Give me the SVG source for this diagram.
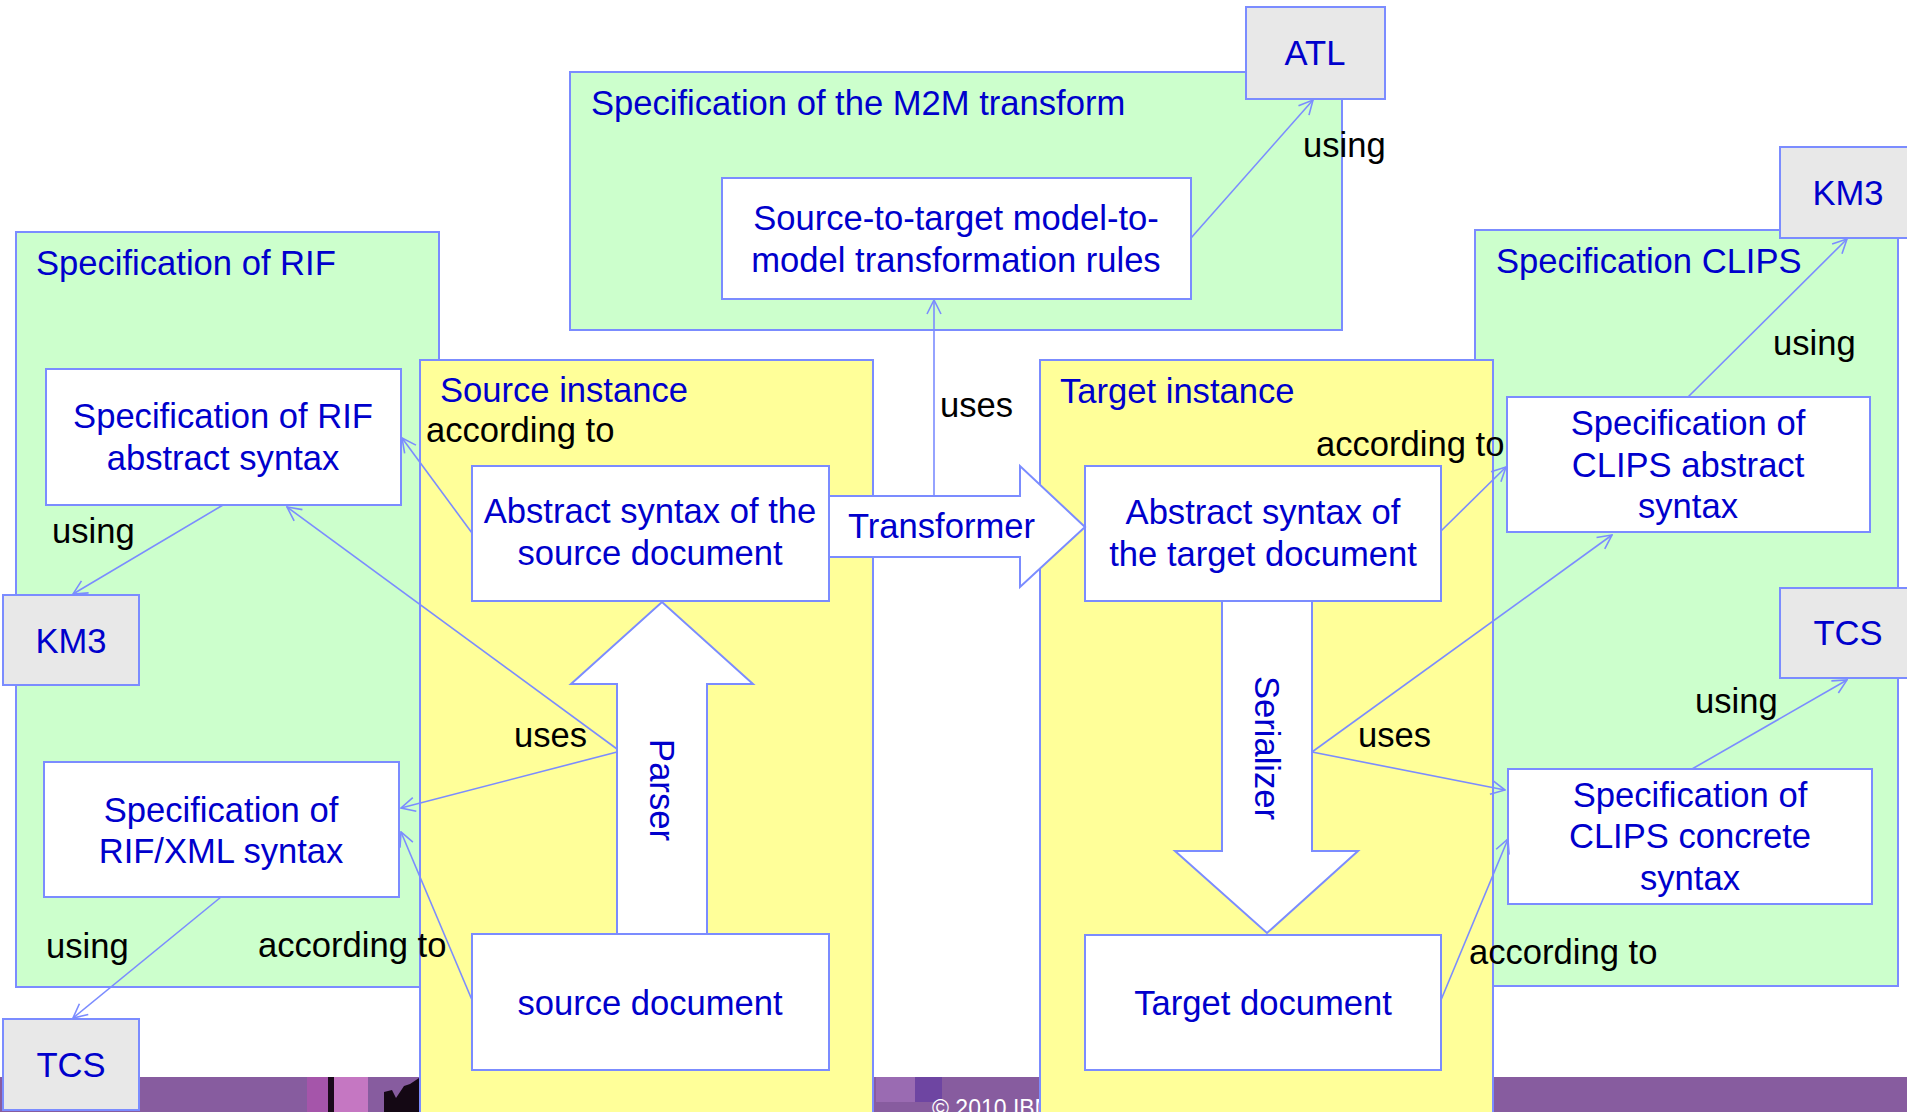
<svg xmlns="http://www.w3.org/2000/svg" width="1907" height="1112" viewBox="0 0 1907 1112">
<style>
.t{font-family:"Liberation Sans",Arial,sans-serif;font-size:34.6px;fill:#0000CC}
.m{text-anchor:middle}
.k{font-family:"Liberation Sans",Arial,sans-serif;font-size:34.6px;fill:#000}
.g{fill:#CCFFCC;stroke:#7B8CFF;stroke-width:2}
.y{fill:#FFFF99;stroke:#7B8CFF;stroke-width:2}
.w{fill:#FFFFFF;stroke:#7B8CFF;stroke-width:2}
.gr{fill:#E8E8E8;stroke:#7B8CFF;stroke-width:2}
.c{fill:none;stroke:#7B8CFF;stroke-width:1.6;marker-end:url(#ah)}
</style>
<defs>
<marker id="ah" viewBox="0 0 16 16" refX="15" refY="8" markerWidth="16" markerHeight="16" markerUnits="userSpaceOnUse" orient="auto">
<path d="M1,1 L15,8 L1,15" fill="none" stroke="#7B8CFF" stroke-width="1.6"/>
</marker>
</defs>
<rect width="1907" height="1112" fill="#FFFFFF"/>
<g id="footer">
<rect x="0" y="1077" width="1907" height="35" fill="#875C9F"/>
<rect x="307" y="1077" width="21" height="35" fill="#A555AA"/>
<rect x="328" y="1077" width="6" height="35" fill="#1A0A1A"/>
<rect x="334" y="1077" width="34" height="35" fill="#C577C2"/>
<path d="M384,1112 L384,1092 L392,1090 L396,1098 L404,1086 L410,1084 L419,1078 L419,1112 Z" fill="#140814"/>
<rect x="876" y="1077" width="39" height="25" fill="#9A6BB2"/>
<rect x="915" y="1077" width="27" height="25" fill="#6E45A2"/>
<text x="932" y="1116" font-family="Liberation Sans,Arial,sans-serif" font-size="23" fill="#FFFFFF">© 2010 IBM Corporation</text>
</g>
<g id="spec-rif">
<rect class="g" x="16" y="232" width="423" height="755"/>
<text class="t" x="36" y="275">Specification of RIF</text>
</g>
<g id="spec-m2m">
<rect class="g" x="570" y="72" width="772" height="258"/>
<text class="t" x="591" y="115">Specification of the M2M transform</text>
</g>
<g id="spec-clips">
<rect class="g" x="1475" y="230" width="423" height="756"/>
<text class="t" x="1496" y="273">Specification CLIPS</text>
</g>
<g id="source-instance">
<rect class="y" x="420" y="360" width="453" height="760"/>
<text class="t" x="440" y="402">Source instance</text>
</g>
<g id="target-instance">
<rect class="y" x="1040" y="360" width="453" height="760"/>
<text class="t" x="1060" y="403">Target instance</text>
</g>
<g id="rif-abstract">
<rect class="w" x="46" y="369" width="355" height="136"/>
<text class="t m" x="223" y="428">Specification of RIF</text>
<text class="t m" x="223" y="470">abstract syntax</text>
</g>
<g id="rif-xml">
<rect class="w" x="44" y="762" width="355" height="135"/>
<text class="t m" x="221" y="822">Specification of</text>
<text class="t m" x="221" y="863">RIF/XML syntax</text>
</g>
<g id="km3-left">
<rect class="gr" x="3" y="595" width="136" height="90"/>
<text class="t m" x="71" y="653">KM3</text>
</g>
<g id="tcs-left">
<rect class="gr" x="3" y="1019" width="136" height="91"/>
<text class="t m" x="71" y="1077">TCS</text>
</g>
<g id="atl">
<rect class="gr" x="1246" y="7" width="139" height="92"/>
<text class="t m" x="1315" y="65">ATL</text>
</g>
<g id="rules">
<rect class="w" x="722" y="178" width="469" height="121"/>
<text class="t m" x="956" y="230">Source-to-target model-to-</text>
<text class="t m" x="956" y="272">model transformation rules</text>
</g>
<g id="source-abstract">
<rect class="w" x="472" y="466" width="357" height="135"/>
<text class="t m" x="650" y="523">Abstract syntax of the</text>
<text class="t m" x="650" y="565">source document</text>
</g>
<g id="source-document">
<rect class="w" x="472" y="934" width="357" height="136"/>
<text class="t m" x="650" y="1015">source document</text>
</g>
<g id="target-abstract">
<rect class="w" x="1085" y="466" width="356" height="135"/>
<text class="t m" x="1263" y="524">Abstract syntax of</text>
<text class="t m" x="1263" y="566">the target document</text>
</g>
<g id="target-document">
<rect class="w" x="1085" y="935" width="356" height="135"/>
<text class="t m" x="1263" y="1015">Target document</text>
</g>
<g id="clips-abstract">
<rect class="w" x="1507" y="397" width="363" height="135"/>
<text class="t m" x="1688" y="435">Specification of</text>
<text class="t m" x="1688" y="477">CLIPS abstract</text>
<text class="t m" x="1688" y="518">syntax</text>
</g>
<g id="clips-concrete">
<rect class="w" x="1508" y="769" width="364" height="135"/>
<text class="t m" x="1690" y="807">Specification of</text>
<text class="t m" x="1690" y="848">CLIPS concrete</text>
<text class="t m" x="1690" y="890">syntax</text>
</g>
<g id="km3-right">
<rect class="gr" x="1780" y="147" width="130" height="91"/>
<text class="t m" x="1848" y="205">KM3</text>
</g>
<g id="tcs-right">
<rect class="gr" x="1780" y="588" width="130" height="90"/>
<text class="t m" x="1848" y="645">TCS</text>
</g>
<g id="connectors">
<g id="transformer">
<polygon class="w" points="829,496 1020,496 1020,466 1085,527 1020,587 1020,557 829,557"/>
<text class="t" x="848" y="538">Transformer</text>
</g>
<g id="parser">
<polygon class="w" points="617,934 617,684 571,684 662,602 753,684 707,684 707,934"/>
<text class="t m" transform="translate(650,790) rotate(90)">Parser</text>
</g>
<g id="serializer">
<polygon class="w" points="1222,601 1312,601 1312,851 1358,851 1267,933 1175,851 1222,851"/>
<text class="t m" transform="translate(1255,748) rotate(90)">Serializer</text>
</g>
<line class="c" x1="1191" y1="238" x2="1313" y2="100"/>
<line class="c" x1="934" y1="496" x2="934" y2="300"/>
<line class="c" x1="223" y1="505" x2="73" y2="594"/>
<line class="c" x1="221" y1="897" x2="73" y2="1018"/>
<line class="c" x1="472" y1="533" x2="402" y2="438"/>
<line class="c" x1="617" y1="749" x2="287" y2="507"/>
<line class="c" x1="617" y1="752" x2="401" y2="808"/>
<line class="c" x1="472" y1="1000" x2="401" y2="832"/>
<line class="c" x1="1441" y1="531" x2="1506" y2="467"/>
<line class="c" x1="1312" y1="752" x2="1612" y2="535"/>
<line class="c" x1="1312" y1="752" x2="1505" y2="790"/>
<line class="c" x1="1441" y1="1000" x2="1508" y2="839"/>
<line class="c" x1="1688" y1="397" x2="1847" y2="239"/>
<line class="c" x1="1692" y1="769" x2="1847" y2="680"/>
</g>
<g id="labels">
<text class="k" x="1303" y="157">using</text>
<text class="k" x="940" y="417">uses</text>
<text class="k" x="426" y="442">according to</text>
<text class="k" x="52" y="543">using</text>
<text class="k" x="514" y="747">uses</text>
<text class="k" x="46" y="958">using</text>
<text class="k" x="258" y="957">according to</text>
<text class="k" x="1316" y="456">according to</text>
<text class="k" x="1358" y="747">uses</text>
<text class="k" x="1773" y="355">using</text>
<text class="k" x="1695" y="713">using</text>
<text class="k" x="1469" y="964">according to</text>
</g>
</svg>
